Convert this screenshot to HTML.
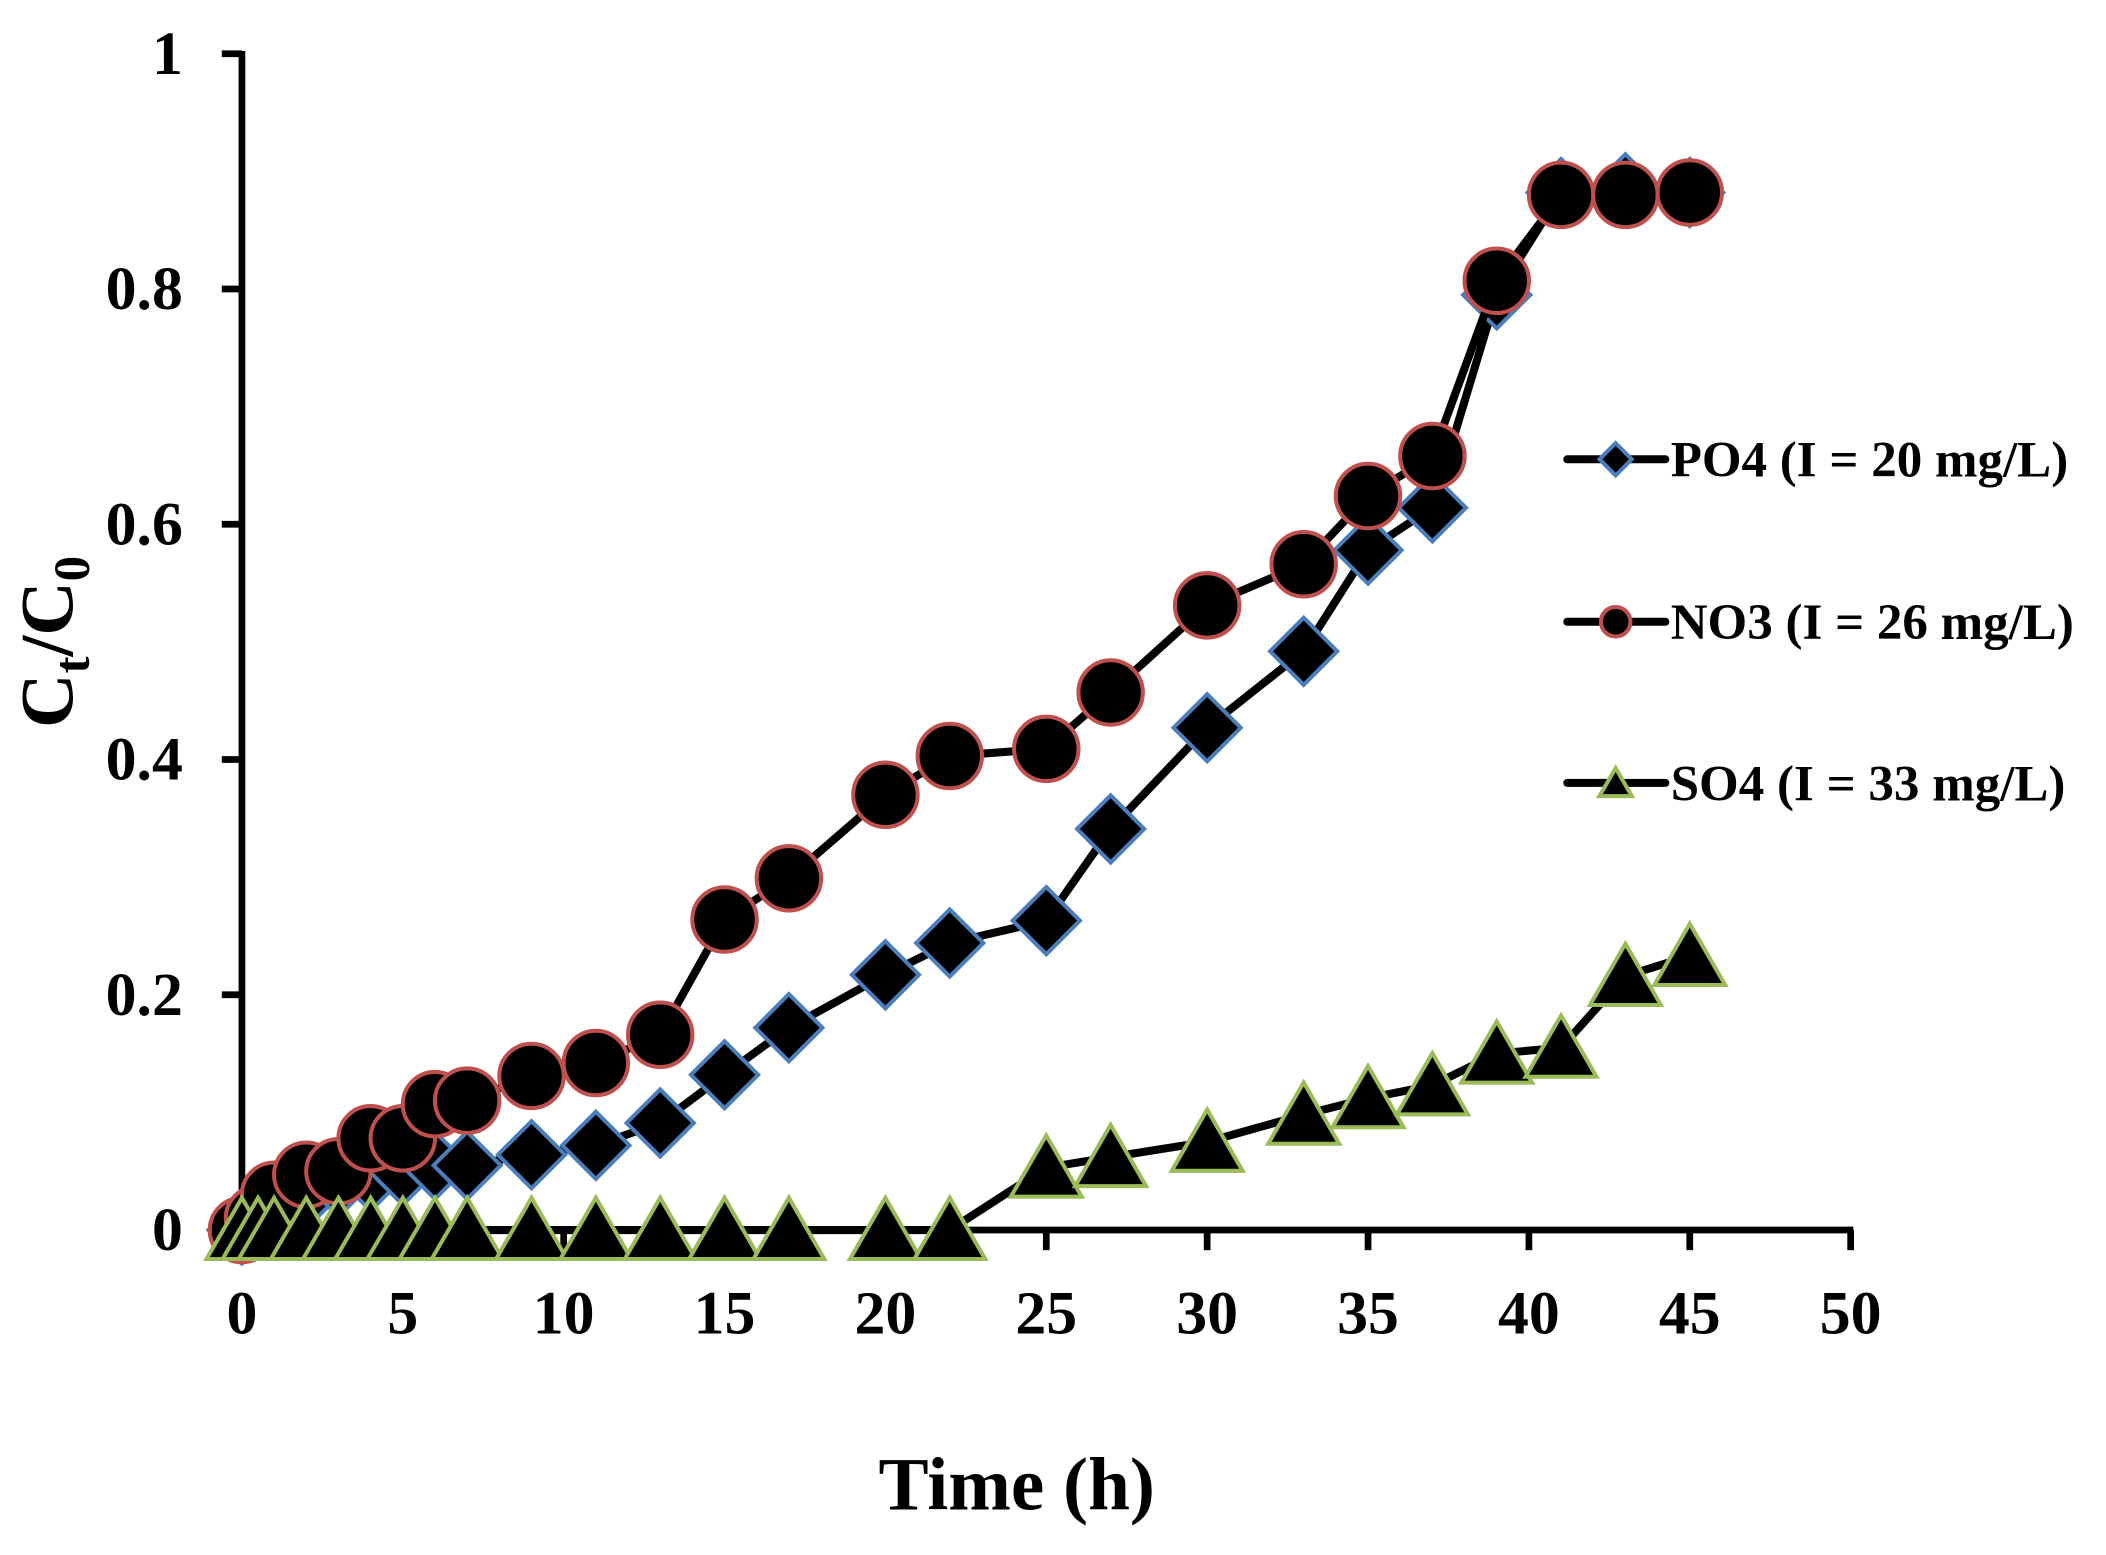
<!DOCTYPE html>
<html><head><meta charset="utf-8"><style>html,body{margin:0;padding:0;background:#fff}svg{display:block}</style></head>
<body>
<svg id="chart" width="2106" height="1555" viewBox="0 0 1568 1158" xmlns="http://www.w3.org/2000/svg" font-family="'Liberation Serif', serif" font-weight="bold">
<rect width="1568" height="1158" fill="#fff"/>
<g id="axes"></g>
<g id="series"></g>
<g id="legend"></g>
<text x="757" y="1124" font-size="56" text-anchor="middle">Time (h)</text>
<text transform="translate(54,478) rotate(-90)" font-size="56" text-anchor="middle">C<tspan font-size="38" dy="12">t</tspan><tspan dy="-12">/C</tspan><tspan font-size="38" dy="12">0</tspan></text>
</svg>
<script>
const xTicks=[0,5,10,15,20,25,30,35,40,45,50];
const yTicks=[0,0.2,0.4,0.6,0.8,1];
const yTickLabels=["0","0.2","0.4","0.6","0.8","1"];
const timeHours=[0,0.5,1,2,3,4,5,6,7,9,11,13,15,17,20,22,25,27,30,33,35,37,39,41,43,45];
const po4Values=[0,0.01,0.02,0.03,0.04,0.045,0.05,0.055,0.055,0.064,0.072,0.091,0.132,0.172,0.217,0.244,0.263,0.341,0.427,0.492,0.578,0.614,0.795,0.882,0.886,0.882];
const no3Values=[0,0.01,0.03,0.047,0.05,0.078,0.078,0.107,0.11,0.131,0.142,0.166,0.264,0.299,0.37,0.403,0.409,0.457,0.531,0.566,0.624,0.658,0.807,0.88,0.88,0.882];
const so4Values=[0,0,0,0,0,0,0,0,0,0,0,0,0,0,0,0,0.053,0.062,0.075,0.098,0.112,0.123,0.15,0.155,0.216,0.233];
const seriesNames=["PO4 (I = 20 mg/L)","NO3 (I = 26 mg/L)","SO4 (I = 33 mg/L)"];

const NS="http://www.w3.org/2000/svg";
const X0=180,X1=1378,Y0=916,Y1=40;
function sx(v){return X0+(v-0)/(50-0)*(X1-X0);}
function sy(v){return Y0-(v-0)/(1-0)*(Y0-Y1);}
function mk(tag,attrs,parent){const e=document.createElementNS(NS,tag);for(const k in attrs)e.setAttribute(k,attrs[k]);parent.appendChild(e);return e;}
const axes=document.getElementById('axes');
let a=mk('line',{x1:X0,y1:Y1-2,x2:X0,y2:Y0+2,stroke:'#000','stroke-width':5},axes);


a=mk('line',{x1:X0-2,y1:Y0,x2:X1+2,y2:Y0,stroke:'#000','stroke-width':5},axes);


yTicks.forEach((v,i)=>{
  const t=mk('line',{x1:X0-15,y1:sy(v),x2:X0,y2:sy(v),stroke:'#000','stroke-width':5},axes);
  
  
  const l=mk('text',{x:X0-44,y:sy(v)+15,'font-size':46,'text-anchor':'end'},axes);
  l.textContent=yTickLabels[i];
  
  
});
xTicks.forEach(v=>{
  const t=mk('line',{x1:sx(v),y1:Y0,x2:sx(v),y2:Y0+15,stroke:'#000','stroke-width':5},axes);
  
  
  const l=mk('text',{x:sx(v),y:Y0+77,'font-size':46,'text-anchor':'middle'},axes);
  l.textContent=String(v);
  
  
});
function marker(type,cx,cy,s,parent){
  if(type==='diamond')return mk('polygon',{points:`${cx},${cy-s} ${cx+s},${cy} ${cx},${cy+s} ${cx-s},${cy}`,fill:'#000',stroke:'#4a7ebb','stroke-width':3},parent);
  if(type==='circle')return mk('circle',{cx:cx,cy:cy,r:s,fill:'#000',stroke:'#c0504d','stroke-width':3},parent);
  return mk('polygon',{points:`${cx},${cy-s} ${cx+s*1.1},${cy+s*0.9} ${cx-s*1.1},${cy+s*0.9}`,fill:'#000',stroke:'#9bbb59','stroke-width':3},parent);
}
const ser=document.getElementById('series');
const defs=[[po4Values,'diamond','po4',25],[no3Values,'circle','no3',24],[so4Values,'triangle','so4',24]];
defs.forEach(([vals,type,name,s])=>{
  const g=mk('g',{},ser);
  
  
  const pts=timeHours.map((t,i)=>sx(t)+','+sy(vals[i])).join(' ');
  const pl=mk('polyline',{points:pts,fill:'none',stroke:'#000','stroke-width':6,'stroke-linejoin':'round'},g);
  
  
  timeHours.forEach((t,i)=>{
    const m=marker(type,sx(t),sy(vals[i]),s,g);
    
    
  });
});
const leg=document.getElementById('legend');
const legY=[342,463,583];
['diamond','circle','triangle'].forEach((type,i)=>{
  const g=mk('g',{},leg);
  
  
  mk('line',{x1:1167,y1:legY[i],x2:1240,y2:legY[i],stroke:'#000','stroke-width':6,'stroke-linecap':'round'},g);
  marker(type,1203,legY[i],type==='diamond'?12:11,g);
  const t=mk('text',{x:1244,y:legY[i]+13,'font-size':38},g);
  t.textContent=seriesNames[i];
});
</script>
</body></html>
